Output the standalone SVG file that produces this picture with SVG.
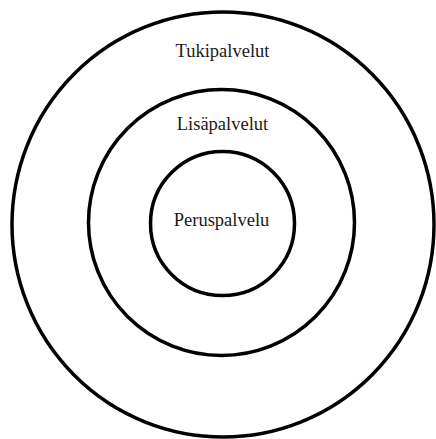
<svg xmlns="http://www.w3.org/2000/svg" width="436" height="439" viewBox="0 0 436 439">
  <style>
    .ring { fill: none; stroke: #000; stroke-width: 3.5; }
    .label { font-family: "Liberation Serif", "Times New Roman", serif; font-size: 18.5px; fill: #1a1a1a; text-anchor: middle; }
  </style>
  <rect width="436" height="439" fill="#fff"/>
  <g id="outer">
    <ellipse class="ring" cx="223" cy="224.5" rx="211" ry="212.5"/>
    <text class="label" x="222.5" y="57">Tukipalvelut</text>
  </g>
  <g id="middle">
    <circle class="ring" cx="221.5" cy="222.5" r="133"/>
    <text class="label" x="222.5" y="130">Lisäpalvelut</text>
  </g>
  <g id="inner">
    <circle class="ring" cx="222.5" cy="223.5" r="72"/>
    <text class="label" x="221.5" y="226">Peruspalvelu</text>
  </g>
  <g id="connectors"/>
</svg>
